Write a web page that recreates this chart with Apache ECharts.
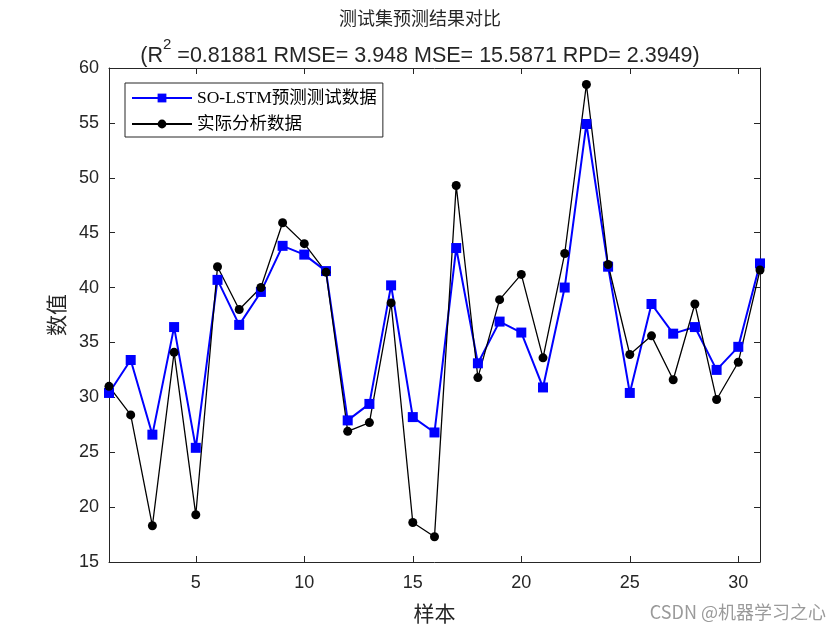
<!DOCTYPE html>
<html>
<head>
<meta charset="utf-8">
<script src="https://cdn.jsdelivr.net/npm/echarts@6/dist/echarts.min.js"></script>
<style>html,body{margin:0;padding:0;background:#fff;}#c{width:840px;height:630px;}</style>
</head>
<body>
<div id="c"></div>
<script>
const samples = Array.from({length: 31}, (_, i) => i + 1);
const predicted = [30.4, 33.4, 26.6, 36.4, 25.4, 40.7, 36.6, 39.6, 43.8, 43.0, 41.5, 27.9, 29.4, 40.2, 28.2, 26.8, 43.6, 33.1, 36.9, 35.9, 30.9, 40.0, 54.9, 41.9, 30.4, 38.5, 35.8, 36.4, 32.5, 34.6, 42.2];
const actual = [31.0, 28.4, 18.3, 34.1, 19.3, 41.9, 38.0, 40.0, 45.9, 44.0, 41.4, 26.9, 27.7, 38.6, 18.6, 17.3, 49.3, 31.8, 38.9, 41.2, 33.6, 43.1, 58.5, 42.1, 33.9, 35.6, 31.6, 38.5, 29.8, 33.2, 41.6];
const xTicks = [5, 10, 15, 20, 25, 30];
const yTicks = [15, 20, 25, 30, 35, 40, 45, 50, 55, 60];

const chart = echarts.init(document.getElementById('c'));
const axisColor = '#262626';
const fontSans = 'Liberation Sans, Arial, Noto Sans CJK SC';
chart.setOption({
  backgroundColor: '#fff',
  animation: false,
  title: [
    {text: '测试集预测结果对比', left: 'center', top: 4,
     textStyle: {fontFamily: 'Noto Sans CJK SC', fontWeight: 'normal', fontSize: 18, color: '#262626'}},
    {text: '{a|(R}{s|2}{a| =0.81881 RMSE= 3.948 MSE= 15.5871 RPD= 2.3949)}', left: 'center', top: 32,
     textStyle: {fontWeight: 'normal', rich: {
       a: {fontFamily: fontSans, fontWeight: 'normal', fontSize: 21.5, color: '#262626', verticalAlign: 'bottom', lineHeight: 30},
       s: {fontFamily: fontSans, fontWeight: 'normal', fontSize: 15, color: '#262626', verticalAlign: 'top', lineHeight: 30, padding: [0, 0, 4, 0]}
     }}}
  ],
  legend: {
    left: 125, top: 83, orient: 'vertical',
    itemWidth: 60, itemHeight: 11, itemGap: 6,
    borderColor: '#262626', borderWidth: 1, padding: [5, 6, 3, 6],
    backgroundColor: '#fff',
    textStyle: {fontFamily: 'Liberation Serif, Times New Roman, Noto Sans CJK SC', fontSize: 17.5, color: '#000', lineHeight: 20},
    data: ['SO-LSTM预测测试数据', '实际分析数据']
  },
  grid: {left: 109, right: 80, top: 68, bottom: 68, containLabel: false},
  xAxis: [{
    type: 'value', min: 1, max: 31,
    name: '样本', nameLocation: 'middle', nameGap: 41,
    nameTextStyle: {fontFamily: 'Noto Sans CJK SC', fontSize: 21, color: '#262626'},
    axisLine: {show: true, lineStyle: {color: axisColor, width: 1}},
    axisTick: {show: true, inside: true, length: 6, customValues: xTicks, lineStyle: {color: axisColor}},
    axisLabel: {customValues: xTicks, fontFamily: fontSans, fontSize: 18, color: '#262626', margin: 12},
    splitLine: {show: false}
  }, {
    type: 'value', min: 1, max: 31, position: 'top',
    axisLine: {show: true, onZero: false, lineStyle: {color: axisColor, width: 1}},
    axisTick: {show: true, inside: true, length: 6, customValues: xTicks, lineStyle: {color: axisColor}},
    axisLabel: {show: false}, splitLine: {show: false}
  }],
  yAxis: [{
    type: 'value', min: 15, max: 60, interval: 5,
    name: '数值', nameLocation: 'middle', nameGap: 42, nameRotate: 90,
    nameTextStyle: {fontFamily: 'Noto Sans CJK SC', fontSize: 21, color: '#262626'},
    axisLine: {show: true, lineStyle: {color: axisColor, width: 1}},
    axisTick: {show: true, inside: true, length: 6, lineStyle: {color: axisColor}},
    axisLabel: {fontFamily: fontSans, fontSize: 18, color: '#262626', margin: 10},
    splitLine: {show: false}
  }, {
    type: 'value', min: 15, max: 60, interval: 5, position: 'right',
    axisLine: {show: true, onZero: false, lineStyle: {color: axisColor, width: 1}},
    axisTick: {show: true, inside: true, length: 6, lineStyle: {color: axisColor}},
    axisLabel: {show: false}, splitLine: {show: false}
  }],
  series: [{
    name: 'SO-LSTM预测测试数据', type: 'line',
    data: samples.map((s, i) => [s, predicted[i]]),
    symbol: 'rect', symbolSize: 10,
    lineStyle: {color: '#0000ff', width: 2},
    itemStyle: {color: '#0000ff'}
  }, {
    name: '实际分析数据', type: 'line',
    data: samples.map((s, i) => [s, actual[i]]),
    symbol: 'circle', symbolSize: 9,
    lineStyle: {color: '#000', width: 1.3},
    itemStyle: {color: '#000'}
  }],
  graphic: [{
    type: 'text', right: 14, bottom: 9,
    style: {text: 'CSDN @机器学习之心', fontFamily: 'Noto Sans CJK SC', fontSize: 18, fill: '#9a9a9a'}
  }]
});
</script>
</body>
</html>
